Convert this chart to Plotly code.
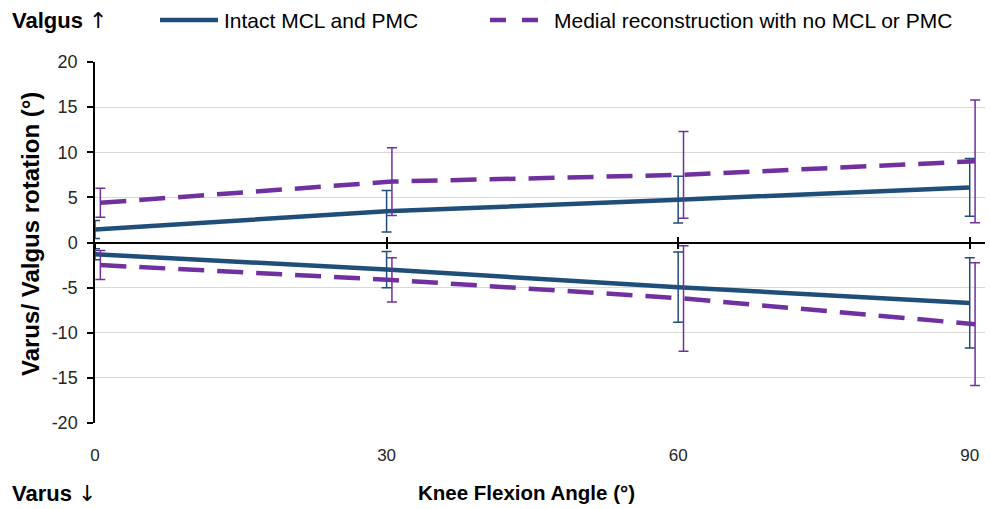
import plotly.graph_objects as go

# Knee flexion angles (degrees)
angles = [0, 30, 60, 90]

# Intact MCL and PMC: mean valgus / varus rotation and SD (degrees)
intact_valgus = [1.45, 3.45, 4.75, 6.1]
intact_valgus_sd = [1.0, 2.3, 2.6, 3.2]
intact_varus = [-1.3, -3.0, -4.95, -6.7]
intact_varus_sd = [0.6, 2.0, 3.9, 5.0]

# Medial reconstruction with no MCL or PMC
recon_valgus = [4.4, 6.75, 7.5, 9.0]
recon_valgus_sd = [1.6, 3.75, 4.8, 6.8]
recon_varus = [-2.5, -4.15, -6.2, -9.05]
recon_varus_sd = [1.6, 2.45, 5.85, 6.8]

y_ticks = [-20, -15, -10, -5, 0, 5, 10, 15, 20]
y_tick_labels = ["-20", "-15", "-10", "-5", "0", "5", "10", "15", "20"]
x_ticks = [0, 30, 60, 90]

BLUE = "#1F4E79"
PURPLE = "#7030A0"
FONT = "Liberation Sans, Arial, sans-serif"
RECON_SHIFT = 0.55  # small horizontal nudge so the two sets of error bars don't overlap

W, H = 990, 509
ML, MR, MT, MB = 95, 5, 62, 86
PW, PH = W - ML - MR, H - MT - MB


def px(x):
    return (x - ML) / PW


def py(y):
    return (H - MB - y) / PH


fig = go.Figure()


def add_series(y, sd, color, dash, shift):
    fig.add_trace(go.Scatter(
        x=[a + shift for a in angles], y=y, mode="lines",
        line=dict(color=color, width=4.5, dash=dash),
        error_y=dict(type="data", array=sd, visible=True,
                     color=color, thickness=1.5, width=5),
        showlegend=False, hoverinfo="x+y",
    ))


add_series(intact_valgus, intact_valgus_sd, BLUE, "solid", 0)
add_series(intact_varus, intact_varus_sd, BLUE, "solid", 0)
add_series(recon_valgus, recon_valgus_sd, PURPLE, "26px,13px", RECON_SHIFT)
add_series(recon_varus, recon_varus_sd, PURPLE, "26px,13px", RECON_SHIFT)

# invisible helpers so the crossing-tick axes along y = 0 get drawn
for ax in ("x2", "x3"):
    fig.add_trace(go.Scatter(x=angles, y=[0] * len(angles), xaxis=ax, mode="markers",
                             marker=dict(opacity=0), hoverinfo="skip", showlegend=False))

x_range = [0, 91.57]

ARROW_STYLE = "font-family:DejaVu Sans;font-size:22px;color:black"

annotations = [
    dict(text=f"<b>Valgus</b> <span style='{ARROW_STYLE}'>↑</span>", x=px(10), y=py(20),
         xanchor="left", yanchor="middle", font=dict(size=22, color="black", family=FONT)),
    dict(text=f"<b>Varus</b> <span style='{ARROW_STYLE}'>↓</span>", x=px(10), y=py(493),
         xanchor="left", yanchor="middle", font=dict(size=22, color="black", family=FONT)),
    dict(text="<b>Knee Flexion Angle (°)</b>", x=px(526), y=py(492), xanchor="center",
         yanchor="middle", font=dict(size=20.5, color="black", family=FONT)),
    dict(text="<b>Varus/ Valgus rotation (°)</b>", x=px(30), y=py(234), textangle=-90,
         xanchor="center", yanchor="middle", font=dict(size=24, color="black", family=FONT)),
    dict(text="Intact MCL and PMC", x=px(222), y=py(20), xanchor="left", yanchor="middle",
         font=dict(size=21, color="black", family=FONT)),
    dict(text="Medial reconstruction with no MCL or PMC", x=px(552), y=py(20),
         xanchor="left", yanchor="middle", font=dict(size=21, color="black", family=FONT)),
]
for a in annotations:
    a.update(xref="paper", yref="paper", showarrow=False)

shapes = [
    dict(type="line", xref="paper", yref="paper", x0=px(160), x1=px(218),
         y0=py(20), y1=py(20), line=dict(color=BLUE, width=4.5)),
    dict(type="line", xref="paper", yref="paper", x0=px(490), x1=px(540),
         y0=py(20), y1=py(20), line=dict(color=PURPLE, width=4.5, dash="16px,16px")),
]

fig.update_layout(
    width=W, height=H,
    margin=dict(l=ML, r=MR, t=MT, b=MB, pad=0),
    paper_bgcolor="white", plot_bgcolor="white",
    font=dict(family=FONT, color="#262626", size=17),
    showlegend=False,
    annotations=annotations,
    shapes=shapes,
    xaxis=dict(range=x_range, tickvals=x_ticks, ticks="", showline=False,
               showgrid=False, zeroline=False, ticklabelstandoff=20,
               tickfont=dict(size=17, color="#262626")),
    # axis line through y = 0 with ticks crossing both sides
    xaxis2=dict(range=x_range, overlaying="x", anchor="free", position=0.5,
                tickvals=x_ticks, ticks="outside", ticklen=6, tickwidth=1.5,
                tickcolor="black", showline=True, linecolor="black", linewidth=1.5,
                showticklabels=False, showgrid=False, zeroline=False),
    xaxis3=dict(range=x_range, overlaying="x", anchor="free", position=0.5,
                tickvals=x_ticks, ticks="inside", ticklen=6, tickwidth=1.5,
                tickcolor="black", showline=False,
                showticklabels=False, showgrid=False, zeroline=False),
    yaxis=dict(range=[-20, 20], tickvals=y_ticks, ticktext=y_tick_labels,
               ticks="outside", ticklen=6,
               tickwidth=1.5, tickcolor="black", showline=True, linecolor="black",
               linewidth=1.5, showgrid=True, gridcolor="#D9D9D9", gridwidth=1,
               zeroline=False, ticklabelstandoff=6,
               tickfont=dict(size=18, color="#262626")),
)

fig.write_html("out.html")
